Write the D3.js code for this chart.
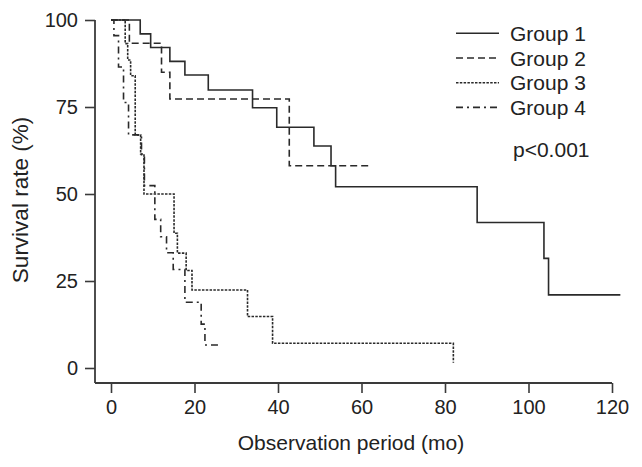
<!DOCTYPE html>
<html><head><meta charset="utf-8">
<script src="https://cdn.jsdelivr.net/npm/d3@7"></script>
<style>
body{margin:0;background:#fff;}
text{font-family:"Liberation Sans",Arial,sans-serif;fill:#222;}
</style></head>
<body>
<svg id="c" width="642" height="467"></svg>
<script>
// Kaplan-Meier step data: [time (mo), survival (%)]; last entry = end of follow-up
const group1 = [[0,100],[7.0,96.0],[9.5,92.1],[14.1,88.1],[17.7,84.2],[23.3,79.9],[33.9,74.8],[39.7,69.2],[48.6,63.8],[52.7,58.1],[53.8,52.1],[87.7,41.8],[103.7,31.5],[104.8,21.0],[122,21.0]];
const group2 = [[0,100],[4.4,93.3],[12.1,85.0],[14.1,77.3],[42.7,58.1],[62.4,58.1]];
const group3 = [[0,100],[3.4,93.2],[4.0,88.5],[4.7,84.0],[5.8,67.0],[7.1,61.5],[7.9,50.0],[15.1,38.7],[15.9,33.0],[18.0,28.0],[19.4,22.4],[32.7,14.8],[38.7,7.1],[82.0,1.5]];
const group4 = [[0,100],[0.7,95.5],[1.8,86.5],[3.0,76.3],[4.2,67.0],[7.3,61.0],[8.0,52.4],[10.5,42.7],[11.9,37.7],[13.3,33.1],[14.9,28.3],[17.7,18.9],[21.6,12.6],[22.5,6.6],[26.5,6.6]];
const groupNames = ["Group 1","Group 2","Group 3","Group 4"];
const xTicks = [0,20,40,60,80,100,120];
const yTicks = [0,25,50,75,100];
const pText = "p<0.001";
const xTitle = "Observation period (mo)";
const yTitle = "Survival rate (%)";

const series = [group1, group2, group3, group4];
const dashes = [null, "7,4", "2.5,1.3", "7,4,2,4"];

const svg = d3.select("#c");
const x = d3.scaleLinear().domain([0,120]).range([111,612]);
const y = d3.scaleLinear().domain([0,100]).range([368,20]);
const axisColor = "#3a3a3a";

// Y axis
const gy = svg.append("g").attr("transform","translate(95,0)")
  .call(d3.axisLeft(y).tickValues(yTicks).tickSize(10).tickPadding(7));
gy.select(".domain").remove();
gy.append("line").attr("x1",0).attr("x2",0).attr("y1",y(100)).attr("y2",383)
  .attr("stroke",axisColor).attr("stroke-width",1.8);
// X axis
const gx = svg.append("g").attr("transform","translate(0,383)")
  .call(d3.axisBottom(x).tickValues(xTicks).tickSize(10).tickPadding(7));
gx.select(".domain").remove();
gx.append("line").attr("x1",95).attr("x2",x(120)).attr("y1",0).attr("y2",0)
  .attr("stroke",axisColor).attr("stroke-width",1.8);

svg.selectAll(".tick line").attr("stroke",axisColor).attr("stroke-width",1.6);
svg.selectAll(".tick text").attr("font-size",20).attr("fill","#222")
  .style("font-family","'Liberation Sans',Arial,sans-serif");

// Titles
svg.append("text").attr("x",351).attr("y",450).attr("text-anchor","middle")
  .attr("font-size",21).text(xTitle);
svg.append("text").attr("transform","translate(28,200) rotate(-90)")
  .attr("text-anchor","middle").attr("font-size",22.5).text(yTitle);

// Curves
const line = d3.line().x(d=>x(d[0])).y(d=>y(d[1])).curve(d3.curveStepAfter);
series.forEach((s,i)=>{
  svg.append("path").attr("d",line(s)).attr("fill","none")
    .attr("stroke","#2a2a2a").attr("stroke-width",1.6)
    .attr("stroke-dasharray",dashes[i]);
});

// Legend
groupNames.forEach((g,i)=>{
  const cy = 33.3 + i*24.7;
  svg.append("line").attr("x1",456).attr("x2",499).attr("y1",cy).attr("y2",cy)
    .attr("stroke","#2a2a2a").attr("stroke-width",1.6).attr("stroke-dasharray",dashes[i]);
  svg.append("text").attr("x",510).attr("y",cy+7.6).attr("font-size",21).text(g);
});
svg.append("text").attr("x",513).attr("y",157).attr("font-size",21).text(pText);
</script>
</body></html>
